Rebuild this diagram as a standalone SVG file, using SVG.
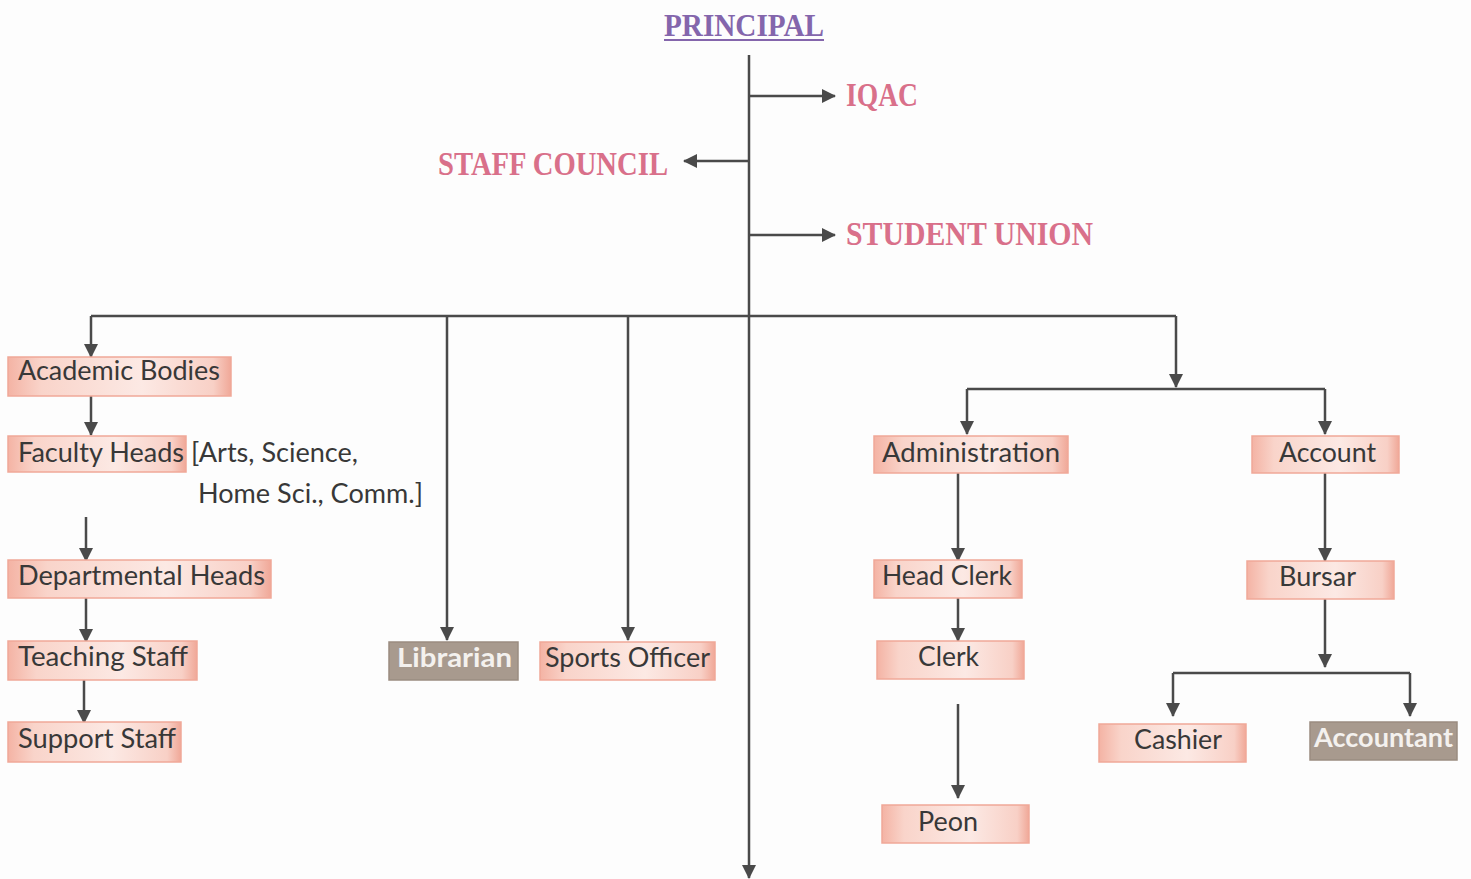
<svg xmlns="http://www.w3.org/2000/svg" width="1471" height="879" viewBox="0 0 1471 879">
<defs>
<linearGradient id="g2" x1="0" y1="0" x2="1" y2="0">
<stop offset="0" stop-color="#f4b3a4"/>
<stop offset="0.15" stop-color="#f9d4ca"/>
<stop offset="0.6" stop-color="#fce9e4"/>
<stop offset="0.92" stop-color="#f8d0c6"/>
<stop offset="1" stop-color="#f0a898"/>
</linearGradient>
<marker id="ah" viewBox="0 0 14 14" refX="13" refY="7" markerWidth="14" markerHeight="14" markerUnits="userSpaceOnUse" orient="auto">
<path d="M0,0 L14,7 L0,14 Z" fill="#4a4a4a"/>
</marker>
<style>
.ln{stroke:#4a4a4a;stroke-width:2.5;fill:none}
.ar{marker-end:url(#ah)}
.bx{fill:url(#g2);stroke:#f0a898;stroke-width:1.5}
.dk{fill:#a89a8e;stroke:#9a8c80;stroke-width:1.5}
.t{font-family:Lato,"Open Sans",sans-serif;font-size:26px;fill:#383838}
.tw{font-family:Lato,"Open Sans",sans-serif;font-size:26px;fill:#f4f1ee;font-weight:bold}
.h{font-family:"Liberation Serif",serif;font-weight:bold;font-size:33px;fill:#d9708a}
.p{font-family:"Liberation Serif",serif;font-weight:bold;font-size:32px;fill:#8466ac}
</style>
</defs>
<rect width="1471" height="879" fill="#fdfdfd"/>
<g id="connectors">
<line class="ln ar" x1="749" y1="55" x2="749" y2="878"/>
<line class="ln ar" x1="749" y1="96" x2="835" y2="96"/>
<line class="ln ar" x1="749" y1="161" x2="684" y2="161"/>
<line class="ln ar" x1="749" y1="235" x2="835" y2="235"/>
<line class="ln" x1="91" y1="316" x2="1176" y2="316"/>
<line class="ln ar" x1="91" y1="316" x2="91" y2="357"/>
<line class="ln ar" x1="447" y1="316" x2="447" y2="640"/>
<line class="ln ar" x1="628" y1="316" x2="628" y2="640"/>
<line class="ln ar" x1="1176" y1="316" x2="1176" y2="387"/>
<line class="ln" x1="967" y1="389" x2="1325" y2="389"/>
<line class="ln ar" x1="967" y1="389" x2="967" y2="434"/>
<line class="ln ar" x1="1325" y1="389" x2="1325" y2="434"/>
<line class="ln ar" x1="91" y1="396" x2="91" y2="435"/>
<line class="ln ar" x1="86" y1="517" x2="86" y2="561"/>
<line class="ln ar" x1="86" y1="598" x2="86" y2="642"/>
<line class="ln ar" x1="84" y1="680" x2="84" y2="723"/>
<line class="ln ar" x1="958" y1="473" x2="958" y2="561"/>
<line class="ln ar" x1="958" y1="598" x2="958" y2="641"/>
<line class="ln ar" x1="958" y1="704" x2="958" y2="798"/>
<line class="ln ar" x1="1325" y1="473" x2="1325" y2="561"/>
<line class="ln ar" x1="1325" y1="599" x2="1325" y2="667"/>
<line class="ln" x1="1173" y1="673" x2="1410" y2="673"/>
<line class="ln ar" x1="1173" y1="673" x2="1173" y2="716"/>
<line class="ln ar" x1="1410" y1="673" x2="1410" y2="716"/>
</g>
<g id="principal"><text class="p" x="664" y="36" textLength="160" lengthAdjust="spacingAndGlyphs">PRINCIPAL</text><line x1="664" y1="40" x2="824" y2="40" stroke="#8466ac" stroke-width="2"/></g>
<g id="iqac"><text class="h" x="846" y="106" textLength="72" lengthAdjust="spacingAndGlyphs">IQAC</text></g>
<g id="staff-council"><text class="h" x="438" y="175" textLength="230" lengthAdjust="spacingAndGlyphs">STAFF COUNCIL</text></g>
<g id="student-union"><text class="h" x="846" y="245" textLength="247" lengthAdjust="spacingAndGlyphs">STUDENT UNION</text></g>
<g id="academic-bodies"><rect class="bx" x="8" y="357" width="223" height="39"/><text class="t" x="18" y="380" textLength="202" lengthAdjust="spacingAndGlyphs">Academic Bodies</text></g>
<g id="faculty-heads"><rect class="bx" x="8" y="436" width="178" height="36"/><text class="t" x="18" y="462" textLength="166" lengthAdjust="spacingAndGlyphs">Faculty Heads</text>
<text class="t" x="191" y="462" textLength="167" lengthAdjust="spacingAndGlyphs">[Arts, Science,</text>
<text class="t" x="198" y="503" textLength="225" lengthAdjust="spacingAndGlyphs">Home Sci., Comm.]</text></g>
<g id="departmental-heads"><rect class="bx" x="8" y="560" width="263" height="38"/><text class="t" x="18" y="585" textLength="247" lengthAdjust="spacingAndGlyphs">Departmental Heads</text></g>
<g id="teaching-staff"><rect class="bx" x="8" y="641" width="189" height="39"/><text class="t" x="18" y="666" textLength="170" lengthAdjust="spacingAndGlyphs">Teaching Staff</text></g>
<g id="support-staff"><rect class="bx" x="8" y="722" width="173" height="40"/><text class="t" x="18" y="748" textLength="158" lengthAdjust="spacingAndGlyphs">Support Staff</text></g>
<g id="librarian"><rect class="dk" x="389" y="642" width="129" height="38"/><text class="tw" x="397" y="667" textLength="115" lengthAdjust="spacingAndGlyphs">Librarian</text></g>
<g id="sports-officer"><rect class="bx" x="540" y="642" width="175" height="38"/><text class="t" x="545" y="667" textLength="165" lengthAdjust="spacingAndGlyphs">Sports Officer</text></g>
<g id="administration"><rect class="bx" x="874" y="436" width="194" height="37"/><text class="t" x="882" y="462" textLength="178" lengthAdjust="spacingAndGlyphs">Administration</text></g>
<g id="head-clerk"><rect class="bx" x="874" y="560" width="148" height="38"/><text class="t" x="882" y="585" textLength="130" lengthAdjust="spacingAndGlyphs">Head Clerk</text></g>
<g id="clerk"><rect class="bx" x="877" y="641" width="147" height="38"/><text class="t" x="918" y="666" textLength="61" lengthAdjust="spacingAndGlyphs">Clerk</text></g>
<g id="peon"><rect class="bx" x="882" y="805" width="147" height="38"/><text class="t" x="918" y="831" textLength="60" lengthAdjust="spacingAndGlyphs">Peon</text></g>
<g id="account"><rect class="bx" x="1252" y="436" width="147" height="37"/><text class="t" x="1279" y="462" textLength="97" lengthAdjust="spacingAndGlyphs">Account</text></g>
<g id="bursar"><rect class="bx" x="1247" y="561" width="147" height="38"/><text class="t" x="1279" y="586" textLength="77" lengthAdjust="spacingAndGlyphs">Bursar</text></g>
<g id="cashier"><rect class="bx" x="1099" y="724" width="147" height="38"/><text class="t" x="1134" y="749" textLength="88" lengthAdjust="spacingAndGlyphs">Cashier</text></g>
<g id="accountant"><rect class="dk" x="1310" y="722" width="147" height="38"/><text class="tw" x="1314" y="747" textLength="139" lengthAdjust="spacingAndGlyphs">Accountant</text></g>
</svg>
